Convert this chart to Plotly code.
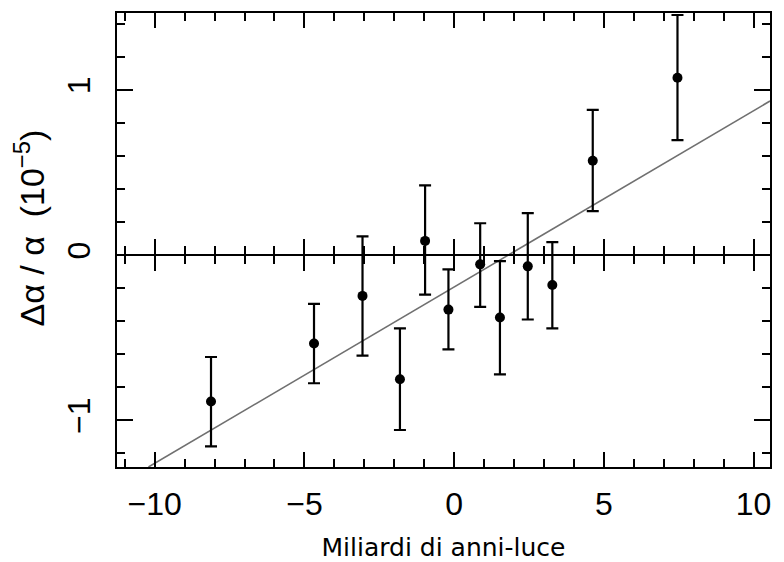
import plotly.graph_objects as go

# Data
dist_x = [-8.12, -4.68, -3.06, -1.81, -0.97, -0.19, 0.87, 1.53, 2.46, 3.28, 4.63, 7.46]
dalpha = [-0.885, -0.534, -0.246, -0.751, 0.087, -0.329, -0.055, -0.377, -0.067, -0.180, 0.572, 1.075]
err_top = [-0.616, -0.294, 0.114, -0.443, 0.423, -0.085, 0.194, -0.035, 0.255, 0.080, 0.880, 1.455]
err_bottom = [-1.157, -0.775, -0.608, -1.058, -0.238, -0.570, -0.312, -0.721, -0.389, -0.443, 0.267, 0.697]

fit_x = [-10.21, 10.55]
fit_y = [-1.282, 0.934]

x_range = [-11.26, 10.55]
y_range = [-1.282, 1.467]
x_ticks = [-10, -5, 0, 5, 10]
x_labels = ["\u221210", "\u22125", "0", "5", "10"]
y_ticks = [-1, 0, 1]
y_labels = ["\u22121", "0", "1"]

plus = [t - v for t, v in zip(err_top, dalpha)]
minus = [v - b for v, b in zip(dalpha, err_bottom)]

fig = go.Figure()
fig.add_trace(go.Scatter(x=fit_x, y=fit_y, mode="lines",
                         line=dict(color="#707070", width=1.6), hoverinfo="skip",
                         showlegend=False))
fig.add_trace(go.Scatter(
    x=dist_x, y=dalpha, mode="markers",
    marker=dict(color="black", size=10),
    error_y=dict(type="data", symmetric=False, array=plus, arrayminus=minus,
                 color="black", thickness=2.2, width=6),
    showlegend=False))

tickfont = dict(family="Liberation Sans, Arial, sans-serif", size=32, color="black")
zero_pos = (0 - y_range[0]) / (y_range[1] - y_range[0])

common_x = dict(range=x_range, tickmode="array", tickvals=x_ticks,
                ticklen=15, tickwidth=2, tickcolor="black",
                showline=True, linewidth=2, linecolor="black",
                showgrid=False, zeroline=False, automargin=False,
                minor=dict(dtick=1, ticklen=8, tickwidth=2, tickcolor="black",
                           ticks="inside", showgrid=False))

main_x = dict(common_x)
main_x["automargin"] = True

# the page body has an 8px margin, so the figure is 8px smaller than the window
fig.update_layout(
    width=776, height=554,
    margin=dict(l=109, r=14, t=3, b=95),
    paper_bgcolor="white", plot_bgcolor="white",
    xaxis=dict(**main_x, ticks="inside", mirror="ticks",
               ticktext=x_labels, tickfont=tickfont, ticklabelstandoff=8,
               title=dict(text="Miliardi di anni-luce",
                          font=dict(family="DejaVu Sans", size=25, color="black"),
                          standoff=17)),
    xaxis2=dict(**{k: v for k, v in common_x.items() if k != "minor"},
                minor=dict(dtick=1, ticklen=8, tickwidth=2, tickcolor="black",
                           ticks="outside", showgrid=False),
                overlaying="x", matches="x", anchor="free", position=zero_pos,
                ticks="outside", showticklabels=False),
    xaxis3=dict(**common_x, overlaying="x", matches="x", anchor="free",
                position=zero_pos, ticks="inside", showticklabels=False),
    yaxis=dict(range=y_range, tickmode="array", tickvals=y_ticks, ticktext=y_labels,
               ticks="inside", ticklen=16, tickwidth=2, tickcolor="black",
               mirror="ticks", showline=True, linewidth=2, linecolor="black",
               showgrid=False, zeroline=False, tickangle=-90, automargin=True,
               tickfont=tickfont, ticklabelstandoff=12,
               minor=dict(dtick=0.2, ticklen=8, tickwidth=2, tickcolor="black",
                          ticks="inside", showgrid=False),
               title=dict(text="\u200b\u2002\u2009\u0394\u03b1 / \u03b1  (10<sup>\u22125</sup>)",
                          font=dict(family="Liberation Sans, Arial, sans-serif",
                                    size=34, color="black"),
                          standoff=6)),
)
# invisible traces so the overlay axes (zero line with crossing ticks) render
fig.add_trace(go.Scatter(x=[0], y=[0], xaxis="x2", mode="markers",
                         marker=dict(opacity=0), hoverinfo="skip", showlegend=False))
fig.add_trace(go.Scatter(x=[0], y=[0], xaxis="x3", mode="markers",
                         marker=dict(opacity=0), hoverinfo="skip", showlegend=False))

fig.write_html("out.html")
